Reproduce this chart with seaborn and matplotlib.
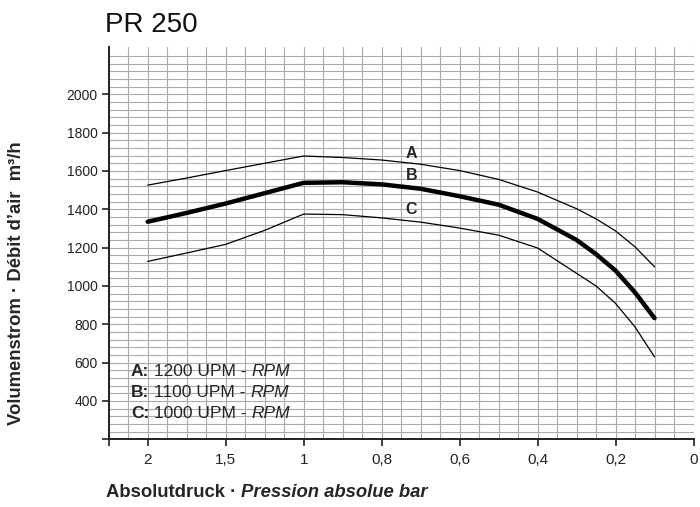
import numpy as np
import pandas as pd
import matplotlib
matplotlib.use("Agg")
import matplotlib.pyplot as plt
import seaborn as sns

# ---------------- data ----------------
tick_pressure = [2, 1.5, 1, 0.8, 0.6, 0.4, 0.2, 0]
tick_labels = ["2", "1,5", "1", "0,8", "0,6", "0,4", "0,2", "0"]
y_ticks = [200, 400, 600, 800, 1000, 1200, 1400, 1600, 1800, 2000]
y_tick_labels = ["", "400", "600", "800", "1000", "1200", "1400", "1600", "1800", "2000"]

pressure = [2, 1.75, 1.5, 1.25, 1, 0.9, 0.8, 0.7, 0.6, 0.5, 0.4, 0.3, 0.25, 0.2, 0.15, 0.1]
flow_A = [1526, 1563, 1602, 1640, 1678, 1670, 1657, 1635, 1602, 1556, 1490, 1403, 1350, 1287, 1204, 1100]
flow_B = [1335, 1381, 1430, 1484, 1538, 1541, 1530, 1507, 1468, 1424, 1350, 1240, 1166, 1080, 966, 832]
flow_C = [1128, 1172, 1217, 1290, 1375, 1372, 1355, 1333, 1302, 1265, 1198, 1066, 1000, 909, 786, 630]

curve_names = ["A", "B", "C"]
legend_rpm = ["1200", "1100", "1000"]

# the pressure axis is drawn with equally spaced ticks (piecewise linear)
tick_pos = np.arange(len(tick_pressure), dtype=float)
def to_pos(p):
    return np.interp(-np.asarray(p, dtype=float), -np.asarray(tick_pressure, float), tick_pos)

df = pd.DataFrame({
    "pos": np.tile(to_pos(pressure), 3),
    "flow": flow_A + flow_B + flow_C,
    "curve": np.repeat(curve_names, len(pressure)),
})

# ---------------- figure ----------------
sns.set_theme(style="white")
plt.rcParams["font.family"] = ["Liberation Sans", "DejaVu Sans"]

W, H = 700, 507
fig = plt.figure(figsize=(W / 100, H / 100), dpi=100)
ax = fig.add_axes([108.7 / W, 1 - 439.3 / H, (693.5 - 108.7) / W, (439.3 - 47.3) / H])

widths = {"A": 0.9, "B": 3.2, "C": 0.9}
for name in curve_names:
    sns.lineplot(data=df[df["curve"] == name], x="pos", y="flow", color="black",
                 lw=widths[name], ax=ax, legend=False, zorder=5)

ax.set_xlim(-0.5, 7.0)
ax.set_ylim(200, 2245)

ax.set_xticks([-0.5] + list(tick_pos))
ax.set_xticklabels([""] + tick_labels, family=["Liberation Sans Narrow", "Liberation Sans"],
                   fontsize=11, color="#222222")
ax.set_yticks(y_ticks)
ax.set_yticklabels(y_tick_labels, fontsize=10, color="#222222")
ax.set_xticks(np.arange(-0.25, 7.01, 0.25), minor=True)
ax.set_yticks(np.arange(240, 2201, 40), minor=True)

ax.tick_params(axis="both", which="major", direction="out", length=5, width=1.2,
               color="#222222", bottom=True, left=True)
ax.tick_params(axis="x", which="major", pad=5)
ax.tick_params(axis="y", which="major", pad=3)
ax.tick_params(axis="both", which="minor", length=0)

ax.grid(True, which="both", color="#ababab", lw=0.8)
ax.set_axisbelow(True)
for s in ["top", "right"]:
    ax.spines[s].set_visible(False)
for s in ["left", "bottom"]:
    ax.spines[s].set_color("#222222")
    ax.spines[s].set_linewidth(1.4)
ax.set_xlabel("")
ax.set_ylabel("")

# curve letters
for name, ypx in zip(curve_names, [153.3, 176, 209]):
    fig.text(411.5 / W, 1 - ypx / H, name, fontsize=11.5, fontweight="bold",
             ha="center", va="center")

# rich text helper (pixel coordinates, y from top)
fig.canvas.draw()
renderer = fig.canvas.get_renderer()
def rich(x_px, y_px, parts):
    cur = x_px
    for s, kw in parts:
        t = fig.text(cur / W, 1 - y_px / H, s, va="baseline", ha="left", **kw)
        bb = t.get_window_extent(renderer)
        cur += bb.width

# title
fig.text(105 / W, 1 - 31.7 / H, "PR 250", fontsize=20, va="baseline", color="#111111")

# legend text
for i, (name, rpm) in enumerate(zip(curve_names, legend_rpm)):
    rich(131, 375.5 + i * 21.5, [
        (name + ":", dict(fontsize=12.5, fontweight="bold")),
        (" " + rpm + " UPM - ", dict(fontsize=12.5)),
        ("RPM", dict(fontsize=12.5, style="italic")),
    ])

# x label
rich(106, 497, [
    ("Absolutdruck · ", dict(fontsize=13.3, fontweight="bold")),
    ("Pression absolue bar", dict(fontsize=13.3, fontweight="bold", style="italic")),
])

# y label
fig.text(17 / W, 1 - 283 / H, "Volumenstrom · Débit d’air  m³/h", rotation=90,
         fontsize=13.3, fontweight="bold", ha="center", va="center")

fig.savefig("out.png", dpi=100)
